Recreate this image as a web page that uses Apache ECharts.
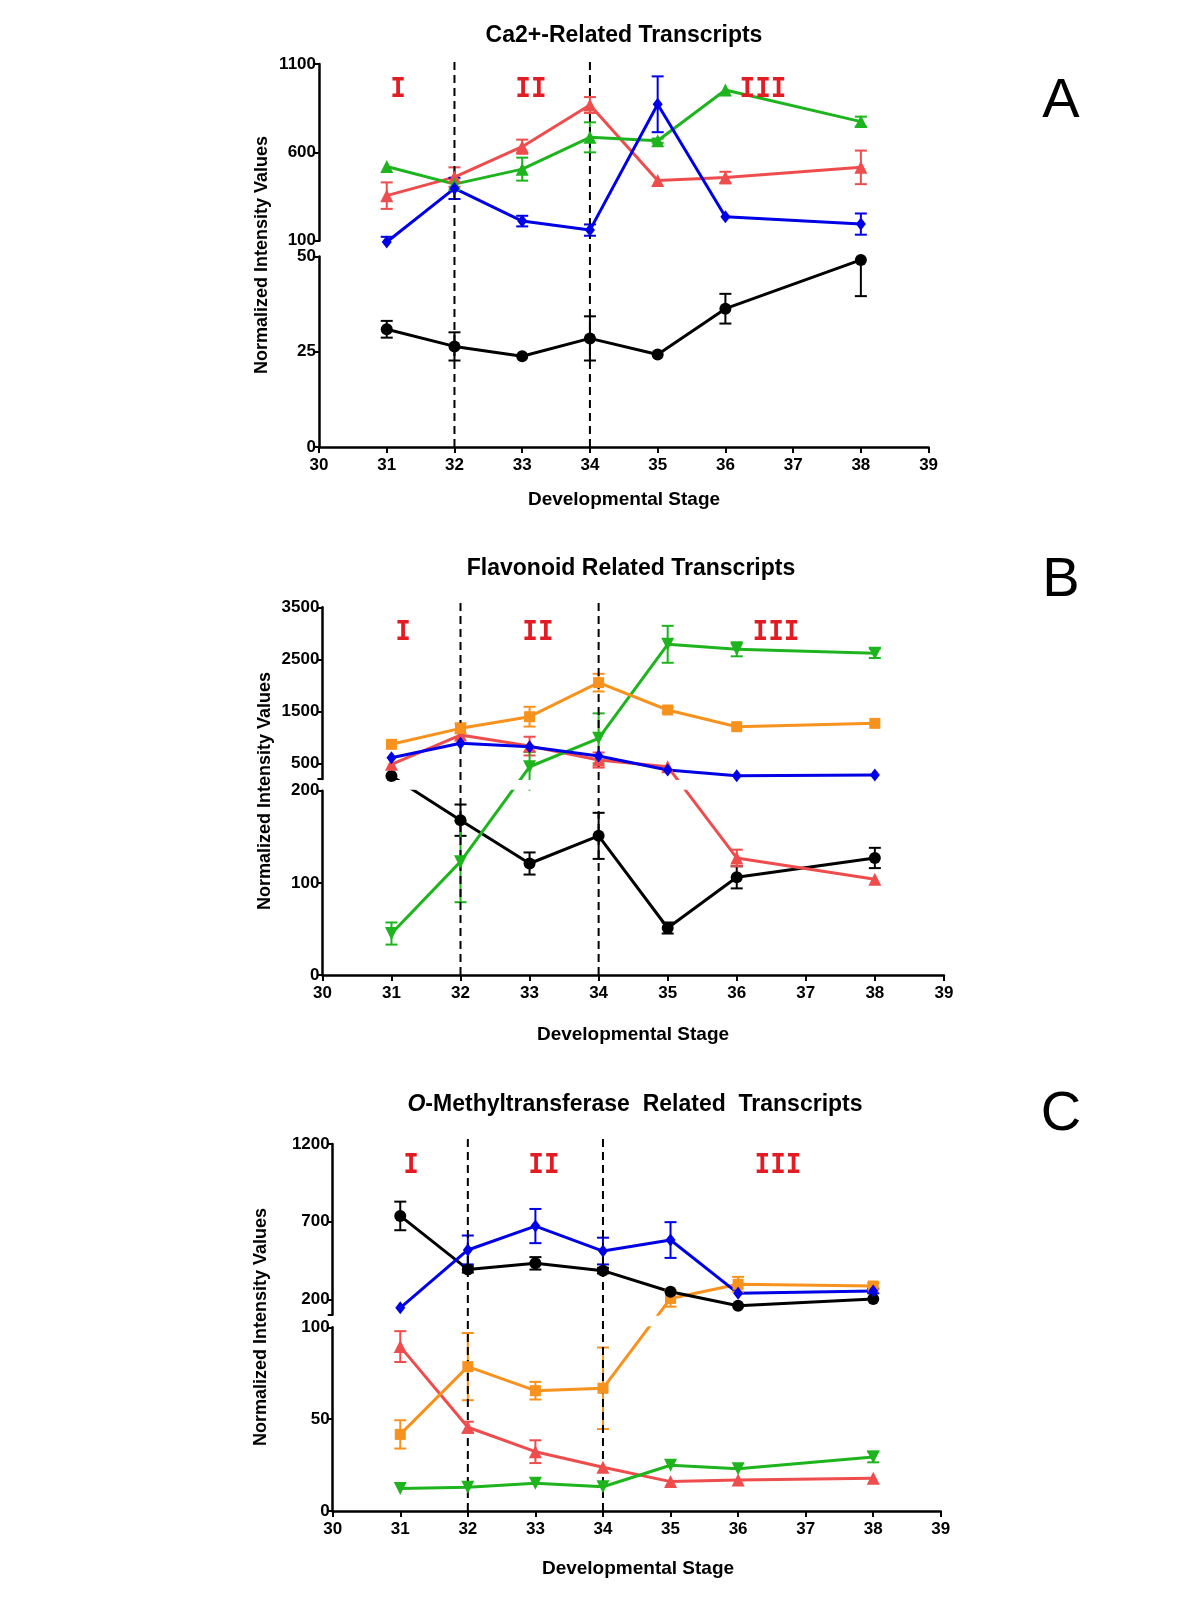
<!DOCTYPE html>
<html><head><meta charset="utf-8">
<script src="https://cdn.jsdelivr.net/npm/echarts@6/dist/echarts.min.js"></script>
<style>html,body{margin:0;padding:0;background:#fff}#c{width:1200px;height:1600px}</style>
</head><body><div id="c"></div><script>
// ---------- data ----------
const stages = [31, 32, 33, 34, 35, 36, 38];

// Panel A : Ca2+-Related Transcripts
const aUpperTicks = [100, 600, 1100];
const aLowerTicks = [0, 25, 50];
const aGreen    = [520, 420, 505, 685, 666, 953, 774];
const aGreenErr = [0, 0, 65, 85, 12, 0, 28];
const aRed      = [355, 460, 632, 868, 440, 457, 515];
const aRedErr   = [75, 55, 40, 45, 0, 33, 95];
const aBlue     = [97, 396, 211, 160, 872, 236, 194];
const aBlueErr  = [25, 60, 30, 32, 158, 0, 60];
const aBlack    = [30.9, 26.4, 23.8, 28.5, 24.3, 36.3, 49.1];
const aBlackErr = [2.2, 3.7, 0, 5.8, 0, 3.9, 9.5];

// Panel B : Flavonoid Related Transcripts
const bUpperTicks  = [200, 500, 1500, 2500, 3500];
const bUpperLabels = [500, 1500, 2500, 3500];
const bLowerTicks  = [0, 100, 200];
const bOrange    = [867, 1174, 1398, 2052, 1527, 1206, 1270];
const bOrangeErr = [0, 95, 190, 170, 50, 0, 0];
const bGreen     = [45, 123, 436, 982, 2789, 2693, 2616];
const bGreenErr  = [12, 44, 285, 480, 355, 135, 90];
const bRed       = [483, 1046, 833, 565, 437, 127, 104];
const bRedErr    = [0, 0, 180, 145, 0, 9, 0];
const bBlue      = [610, 886, 821, 642, 373, 265, 277];
const bBlueErr   = [0, 0, 0, 0, 0, 0, 0];
const bBlack     = [257, 168, 121, 151, 51, 106, 127];
const bBlackErr  = [0, 17, 12, 25, 6, 12, 11];

// Panel C : O-Methyltransferase Related Transcripts
const cUpperTicks  = [100, 200, 700, 1200];
const cUpperLabels = [200, 700, 1200];
const cLowerTicks  = [0, 50, 100];
const cBlack     = [737, 393, 432, 385, 249, 159, 202];
const cBlackErr  = [92, 20, 40, 18, 0, 0, 0];
const cBlue      = [146, 518, 672, 511, 582, 239, 254];
const cBlueErr   = [0, 93, 110, 86, 115, 0, 15];
const cOrange    = [41.7, 78.6, 65.5, 66.8, 206, 297, 286];
const cOrangeErr = [7.7, 18.3, 4.8, 22.2, 53, 48, 20];
const cRed       = [89.5, 45.6, 32.3, 23.8, 16, 16.9, 17.8];
const cRedErr    = [8.4, 3, 6.2, 0, 0, 0, 0];
const cGreen     = [12.3, 12.9, 15.1, 13.2, 24.9, 23, 29.4];
const cGreenErr  = [0, 0, 0, 0, 0, 0, 2.9];

const stageLines = [32, 34];
const phaseNames = ['I', 'II', 'III'];

// ---------- styling ----------
const FONT = 'Liberation Sans';
const COL = {red: '#ef4d4d', green: '#1eb41e', blue: '#0000e6', orange: '#f7921e', black: '#000000'};

const panels = [
  {
    title: [{text: 'Ca2+-Related Transcripts'}], titlePos: [624, 36], letter: 'A', letterPos: [1061, 102],
    yNamePos: [262, 255], xNamePos: [624, 500],
    g: {left: 319, right: 928.6, upTop: 64, upBottom: 240.7, loTop: 256.5, loBottom: 447},
    upper: {min: 100, max: 1100, ticks: aUpperTicks, labels: aUpperTicks},
    lower: {min: 0, max: 50, ticks: aLowerTicks, labels: aLowerTicks},
    phaseX: [398, 531, 763], phaseY: 90,
    series: [
      {v: aBlack, e: aBlackErr, c: 'black', sym: 'circle', size: 12},
      {v: aRed, e: aRedErr, c: 'red', sym: 'triangle', size: 13},
      {v: aGreen, e: aGreenErr, c: 'green', sym: 'triangle', size: 13},
      {v: aBlue, e: aBlueErr, c: 'blue', sym: 'diamond', size: [10, 13]}
    ]
  },
  {
    title: [{text: 'Flavonoid Related Transcripts'}], titlePos: [631, 569], letter: 'B', letterPos: [1061, 581],
    yNamePos: [265, 791], xNamePos: [633, 1035],
    g: {left: 322.4, right: 943.9, upTop: 607.3, upBottom: 779, loTop: 790.7, loBottom: 975},
    upper: {min: 200, max: 3500, ticks: bUpperTicks, labels: bUpperLabels},
    lower: {min: 0, max: 200, ticks: bLowerTicks, labels: bLowerTicks},
    phaseX: [403, 538, 776], phaseY: 633,
    series: [
      {v: bBlack, e: bBlackErr, c: 'black', sym: 'circle', size: 12},
      {v: bRed, e: bRedErr, c: 'red', sym: 'triangle', size: 13},
      {v: bGreen, e: bGreenErr, c: 'green', sym: 'triangle', size: 13, rot: 180},
      {v: bOrange, e: bOrangeErr, c: 'orange', sym: 'rect', size: 11},
      {v: bBlue, e: bBlueErr, c: 'blue', sym: 'diamond', size: [10, 13]}
    ]
  },
  {
    title: [{text: 'O', italic: true}, {text: '-Methyltransferase  Related  Transcripts'}], titlePos: [635, 1105],
    letter: 'C', letterPos: [1061, 1115],
    yNamePos: [261, 1327], xNamePos: [638, 1569],
    g: {left: 332.7, right: 940.8, upTop: 1144, upBottom: 1314.8, loTop: 1327.3, loBottom: 1511},
    upper: {min: 100, max: 1200, ticks: cUpperTicks, labels: cUpperLabels},
    lower: {min: 0, max: 100, ticks: cLowerTicks, labels: cLowerTicks},
    phaseX: [411, 544, 778], phaseY: 1166,
    series: [
      {v: cRed, e: cRedErr, c: 'red', sym: 'triangle', size: 13},
      {v: cGreen, e: cGreenErr, c: 'green', sym: 'triangle', size: 13, rot: 180},
      {v: cOrange, e: cOrangeErr, c: 'orange', sym: 'rect', size: 11},
      {v: cBlack, e: cBlackErr, c: 'black', sym: 'circle', size: 12},
      {v: cBlue, e: cBlueErr, c: 'blue', sym: 'diamond', size: [10, 13]}
    ]
  }
];

// ---------- option ----------
const grid = [], xAxis = [], yAxis = [], series = [], graphic = [];
const axisLineStyle = {color: '#000', width: 2.5};
const labelStyle = {color: '#000', fontSize: 17, fontWeight: 'bold', fontFamily: FONT};
const plain = v => String(v);

function makeErrRender(p) {
  return function (params, api) {
    const x = api.value(0), c = api.value(1);
    let lo = api.value(2), hi = api.value(3);
    // keep each bar inside the axis segment that holds its point
    const seg = c > p.lower.max ? p.upper : p.lower;
    const capLo = lo >= seg.min, capHi = hi <= seg.max;
    lo = Math.max(lo, seg.min); hi = Math.min(hi, seg.max);
    const a = api.coord([x, hi]), b = api.coord([x, lo]);
    const w = 6;
    const st = {stroke: api.visual('color'), lineWidth: 2};
    const ch = [{type: 'line', shape: {x1: a[0], y1: a[1], x2: b[0], y2: b[1]}, style: st}];
    if (capHi) ch.push({type: 'line', shape: {x1: a[0] - w, y1: a[1], x2: a[0] + w, y2: a[1]}, style: st});
    if (capLo) ch.push({type: 'line', shape: {x1: b[0] - w, y1: b[1], x2: b[0] + w, y2: b[1]}, style: st});
    return {type: 'group', children: ch};
  };
}

panels.forEach((p, k) => {
  const g = p.g, w = g.right - g.left;
  const iU = 3 * k, iL = 3 * k + 1, iD = 3 * k + 2;
  grid.push({left: g.left, top: g.upTop, width: w, height: g.upBottom - g.upTop, outerBoundsMode: 'none'});
  grid.push({left: g.left, top: g.loTop, width: w, height: g.loBottom - g.loTop, outerBoundsMode: 'none'});
  grid.push({left: g.left, top: g.upTop, width: w, height: g.loBottom - g.upTop, outerBoundsMode: 'none'});

  xAxis.push({gridIndex: iU, type: 'value', min: 30, max: 39, show: false});
  xAxis.push({gridIndex: iL, type: 'value', min: 30, max: 39, interval: 1,
    axisLine: {show: true, onZero: false, lineStyle: axisLineStyle},
    axisTick: {show: true, length: 6, lineStyle: {color: '#000', width: 2}},
    axisLabel: Object.assign({margin: 10, formatter: plain}, labelStyle), splitLine: {show: false}});
  xAxis.push({gridIndex: iD, type: 'value', min: 30, max: 39, show: false});

  yAxis.push({gridIndex: iU, type: 'value', min: p.upper.min, max: p.upper.max,
    axisLine: {show: true, onZero: false, lineStyle: axisLineStyle},
    axisTick: {show: true, length: 5, lineStyle: {color: '#000', width: 2}, customValues: p.upper.ticks},
    axisLabel: Object.assign({margin: 3, customValues: p.upper.labels, formatter: plain}, labelStyle),
    splitLine: {show: false}});
  yAxis.push({gridIndex: iL, type: 'value', min: p.lower.min, max: p.lower.max,
    axisLine: {show: true, onZero: false, lineStyle: axisLineStyle},
    axisTick: {show: true, length: 5, lineStyle: {color: '#000', width: 2}, customValues: p.lower.ticks},
    axisLabel: Object.assign({margin: 3, customValues: p.lower.labels, formatter: plain}, labelStyle),
    splitLine: {show: false}});

  // data axis: one continuous piecewise scale built with axis breaks
  const s = (g.loBottom - g.loTop) / (p.lower.max - p.lower.min);
  const b1s = p.lower.max;
  let b1e, b2s;
  if (p.upper.min > p.lower.max) { b1e = p.upper.min - 0.1; b2s = p.upper.min; }
  else { b1e = p.lower.max + 0.4; b2s = p.lower.max + 0.8; }
  const gap1 = (g.loTop - g.upBottom) / s - (b2s - b1e);
  const gap2 = (g.upBottom - g.upTop) / s;
  yAxis.push({gridIndex: iD, type: 'value', min: p.lower.min, max: p.upper.max, show: false,
    breaks: [{start: b1s, end: b1e, gap: gap1}, {start: b2s, end: p.upper.max, gap: gap2}],
    breakArea: {show: false}});
  p.gapRange = [b1s, b2s];

  const errRender = makeErrRender(p);
  p.series.forEach(sr => {
    const color = COL[sr.c];
    const pts = stages.map((x, i) => [x, sr.v[i]]);
    series.push({type: 'line', xAxisIndex: iD, yAxisIndex: iD, data: pts, showSymbol: false,
      lineStyle: {color: color, width: 3}, itemStyle: {color: color}, z: 2, clip: false, silent: true});
    const eb = [];
    stages.forEach((x, i) => { if (sr.e[i] > 0) eb.push([x, sr.v[i], sr.v[i] - sr.e[i], sr.v[i] + sr.e[i]]); });
    if (eb.length) series.push({type: 'custom', xAxisIndex: iD, yAxisIndex: iD, data: eb, renderItem: errRender,
      encode: {x: 0, y: [2, 3]}, itemStyle: {color: color}, z: 3, silent: true});
    series.push({type: 'scatter', xAxisIndex: iD, yAxisIndex: iD, data: pts, symbol: sr.sym,
      symbolSize: sr.size, symbolRotate: sr.rot || 0, itemStyle: {color: color, opacity: 1}, z: 6, silent: true});
  });

  // white band over the axis break gap
  series.push({type: 'custom', xAxisIndex: iD, yAxisIndex: iD, data: [[30]], z: 4, silent: true,
    renderItem: (params, api) => {
      const a = api.coord([30, p.gapRange[0]]), b = api.coord([39, p.gapRange[1]]);
      return {type: 'rect', shape: {x: a[0] + 1.5, y: b[1] + 1, width: b[0] - a[0] - 1.5, height: a[1] - b[1] - 2}, style: {fill: '#fff'}};
    }});
  // dashed stage boundaries
  series.push({type: 'custom', xAxisIndex: iD, yAxisIndex: iD, data: stageLines.map(x => [x]), z: 5, silent: true,
    renderItem: (params, api) => {
      const a = api.coord([api.value(0), p.lower.min]), b = api.coord([api.value(0), p.upper.max]);
      return {type: 'line', shape: {x1: a[0], y1: a[1], x2: b[0], y2: b[1] - 6},
        style: {stroke: '#000', lineWidth: 2, lineDash: [8, 5]}};
    }});

  // texts
  const rich = {n: {fontSize: 23, fontWeight: 'bold', fontFamily: FONT, fill: '#000', color: '#000'},
                i: {fontSize: 23, fontWeight: 'bold', fontStyle: 'italic', fontFamily: FONT, fill: '#000', color: '#000'}};
  const tText = p.title.map(t => '{' + (t.italic ? 'i' : 'n') + '|' + t.text + '}').join('');
  graphic.push({type: 'text', x: p.titlePos[0], y: p.titlePos[1], z: 100,
    style: {text: tText, rich: rich, fontSize: 23, fontWeight: 'bold', fontFamily: FONT, fill: '#000',
      align: 'center', verticalAlign: 'middle', textAlign: 'center', textVerticalAlign: 'middle'}});
  graphic.push({type: 'text', x: p.letterPos[0], y: p.letterPos[1], z: 100,
    style: {text: p.letter, fontSize: 56, fontWeight: 'normal', fontFamily: FONT, fill: '#000',
      align: 'center', verticalAlign: 'middle', textAlign: 'center', textVerticalAlign: 'middle'}});
  graphic.push({type: 'text', x: p.yNamePos[0], y: p.yNamePos[1], rotation: Math.PI / 2, z: 100,
    style: {text: 'Normalized Intensity Values', fontSize: 18, fontWeight: 'bold', fontFamily: FONT, fill: '#000',
      align: 'center', verticalAlign: 'middle', textAlign: 'center', textVerticalAlign: 'middle'}});
  graphic.push({type: 'text', x: p.xNamePos[0], y: p.xNamePos[1], z: 100,
    style: {text: 'Developmental Stage', fontSize: 19, fontWeight: 'bold', fontFamily: FONT, fill: '#000',
      align: 'center', verticalAlign: 'middle', textAlign: 'center', textVerticalAlign: 'middle'}});
  phaseNames.forEach((t, j) => {
    graphic.push({type: 'text', x: p.phaseX[j], y: p.phaseY, z: 100,
      style: {text: t, fontSize: 26, fontWeight: 'bold', fontFamily: 'DejaVu Sans Mono', fill: '#e31b23',
        align: 'center', verticalAlign: 'middle', textAlign: 'center', textVerticalAlign: 'middle'}});
  });
});

const chart = echarts.init(document.getElementById('c'), null, {renderer: 'canvas'});
chart.setOption({animation: false, backgroundColor: '#fff', grid, xAxis, yAxis, series, graphic});
</script></body></html>
